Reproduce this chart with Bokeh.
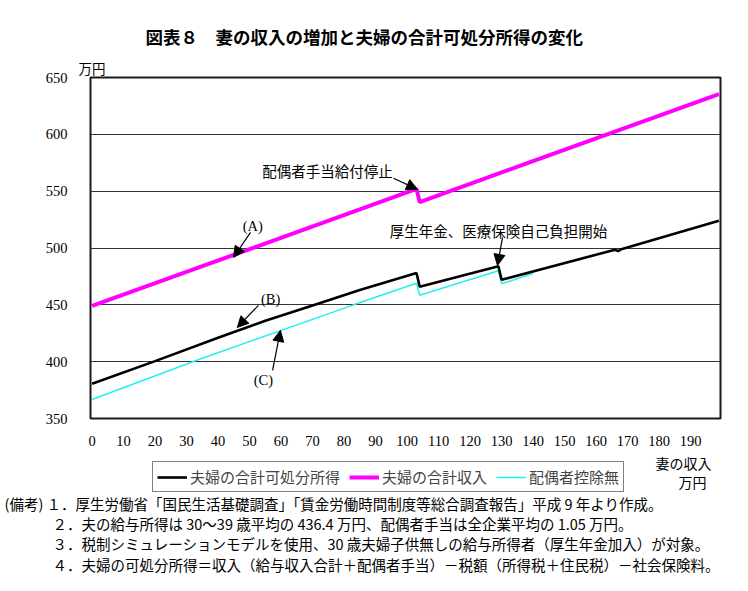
from bokeh.plotting import figure
from bokeh.models import (Range1d, FixedTicker, Label, Arrow, NormalHead,
                          Legend, LegendItem, Title)
from bokeh.layouts import column
from bokeh.embed import file_html
from bokeh.resources import INLINE

# ---------------- data ----------------
x_ticks = [0, 10, 20, 30, 40, 50, 60, 70, 80, 90, 100, 110, 120, 130, 140,
           150, 160, 170, 180, 190]
x_tick_labels = [str(t) for t in x_ticks]
y_ticks = [350, 400, 450, 500, 550, 600, 650]

# (B) 夫婦の合計可処分所得
disp_x = [0, 20, 40, 55, 70, 85, 103, 104, 129, 130, 166, 167, 168, 199]
disp_y = [380.5, 400.5, 421, 436, 449.5, 463, 478, 466, 484, 472, 498.5, 497.3, 499, 524]

# (A) 夫婦の合計収入
income_x = [0, 103, 104, 199]
income_y = [449, 552, 540.4, 635.4]

# (C) 配偶者控除無
nodeduct_x = [0, 33, 83, 103, 104, 129, 130, 140]
nodeduct_y = [366.7, 401, 450, 469, 458.5, 480, 468.5, 477.5]

series_labels = ["夫婦の合計可処分所得", "夫婦の合計収入", "配偶者控除無"]

title_text = "図表８　妻の収入の増加と夫婦の合計可処分所得の変化"
y_unit = "万円"
x_unit = ["妻の収入", "万円"]
notes = [
    "(備考) １．厚生労働省「国民生活基礎調査」「賃金労働時間制度等総合調査報告」平成 9 年より作成。",
    "２．夫の給与所得は 30～39 歳平均の 436.4 万円、配偶者手当は全企業平均の 1.05 万円。",
    "３．税制シミュレーションモデルを使用、30 歳夫婦子供無しの給与所得者（厚生年金加入）が対象。",
    "４．夫婦の可処分所得＝収入（給与収入合計＋配偶者手当）－税額（所得税＋住民税）－社会保険料。",
]

SANS = "Noto Sans CJK JP"
SERIF = "Liberation Serif"

BLACK = dict(line_color="black", line_width=2.6)
MAG = dict(line_color="#FF00FF", line_width=4)
CYAN = dict(line_color="#22F0F0", line_width=1.5)

# ---------------- chart figure ----------------
p = figure(frame_width=630, frame_height=341,
           min_border_left=90, min_border_right=28,
           min_border_top=77, min_border_bottom=34,
           x_range=Range1d(-0.5, 199.5), y_range=Range1d(350, 650),
           title_location=None,
           output_backend="svg", toolbar_location=None)
p.frame_align = False
p.background_fill_color = "white"
p.border_fill_color = "white"
p.outline_line_color = "#1a1a1a"
p.outline_line_width = 2

p.xgrid.visible = False
p.ygrid.grid_line_color = "#333333"
p.ygrid.grid_line_width = 1.2
p.ygrid.ticker = FixedTicker(ticks=y_ticks)

p.xaxis.ticker = FixedTicker(ticks=x_ticks)
p.xaxis.major_label_overrides = {t: l for t, l in zip(x_ticks, x_tick_labels)}
p.yaxis.ticker = FixedTicker(ticks=y_ticks)
for ax in (p.xaxis, p.yaxis):
    ax.axis_line_color = None
    ax.major_tick_line_color = None
    ax.minor_tick_line_color = None
    ax.major_label_text_font = SERIF
    ax.major_label_text_font_size = "14.5px"
    ax.major_label_text_color = "black"
p.xaxis.major_label_standoff = 11
p.yaxis.major_label_standoff = 17

r_cyan = p.line(nodeduct_x, nodeduct_y, **CYAN)
r_mag = p.line(income_x, income_y, **MAG)
r_black = p.line(disp_x, disp_y, **BLACK)

# titles in the top panel (first added sits nearest the frame)
p.add_layout(Title(text=y_unit, align="left", offset=-12, standoff=0,
                   text_font=SANS, text_font_size="13.5px",
                   text_font_style="normal", text_color="black"), "above")
p.add_layout(Title(text=title_text, align="left", offset=55, standoff=14,
                   text_font=SANS, text_font_size="17.5px",
                   text_font_style="bold", text_color="black"), "above")


def dlabel(text, x, y, font=SANS, size="14px"):
    p.add_layout(Label(x=x, y=y, text=text, text_font=font, text_font_size=size,
                       text_align="center", text_baseline="middle", text_color="black"))


def arrow(x0, y0, x1, y1):
    p.add_layout(Arrow(x_start=x0, y_start=y0, x_end=x1, y_end=y1,
                       line_color="black", line_width=1.2,
                       end=NormalHead(size=11, fill_color="black", line_color="black")))


dlabel("配偶者手当給付停止", 74.7, 568.3, size="14.5px")
arrow(95.7, 561.3, 103.3, 551.6)
dlabel("厚生年金、医療保険自己負担開始", 129, 515.5, size="14.5px")
arrow(130.3, 509.3, 128.7, 484.7)
dlabel("(A)", 51, 519, font=SERIF, size="14.5px")
arrow(50.3, 513.7, 44.9, 491.7)
dlabel("(B)", 56.7, 454.8, font=SERIF, size="14.5px")
arrow(52.8, 449.5, 46.1, 430.1)
dlabel("(C)", 54.4, 384.3, font=SERIF, size="14.5px")
arrow(57.3, 392.3, 59.8, 427.5)

# ---------------- bottom figure: legend and notes ----------------
TOP = 452
H2 = 591 - TOP
q = figure(frame_width=748, frame_height=H2,
           x_range=Range1d(0, 748), y_range=Range1d(H2, 0),
           x_axis_type=None, y_axis_type=None, title_location=None,
           min_border=0, min_border_left=0, min_border_right=0,
           min_border_top=0, min_border_bottom=0,
           output_backend="svg", toolbar_location=None)
q.frame_align = False
q.outline_line_color = None
q.grid.visible = False
q.background_fill_color = "white"
q.border_fill_color = "white"

# legend swatches: same series, lying outside this panel's visible range
lb = q.line(disp_x, disp_y, **BLACK)
lm = q.line(income_x, income_y, **MAG)
lc = q.line(nodeduct_x, nodeduct_y, **CYAN)

legend = Legend(items=[LegendItem(label=series_labels[0], renderers=[lb]),
                       LegendItem(label=series_labels[1], renderers=[lm]),
                       LegendItem(label=series_labels[2], renderers=[lc])],
                orientation="horizontal", location=(152, 591 - 492))
legend.border_line_color = "black"
legend.border_line_width = 1.5
legend.padding = 4
legend.margin = 0
legend.spacing = 9
legend.label_standoff = 3
legend.glyph_width = 30
legend.glyph_height = 18
legend.label_height = 18
legend.label_text_font = SANS
legend.label_text_font_size = "15px"
legend.background_fill_color = "white"
q.add_layout(legend, "center")


def qlabel(text, px, py, size="14.5px", align="left"):
    q.add_layout(Label(x=px, y=py - TOP, text=text, text_font=SANS,
                       text_font_size=size, text_align=align,
                       text_baseline="middle", text_color="black"))


qlabel(x_unit[0], 683, 462, size="14px", align="center")
qlabel(x_unit[1], 692, 481, size="14px", align="center")
qlabel(notes[0], 4, 503)
qlabel(notes[1], 52, 523)
qlabel(notes[2], 52, 543)
qlabel(notes[3], 52, 564)

layout = column(p, q, spacing=0)
open("out.html", "w").write(file_html(layout, INLINE))
